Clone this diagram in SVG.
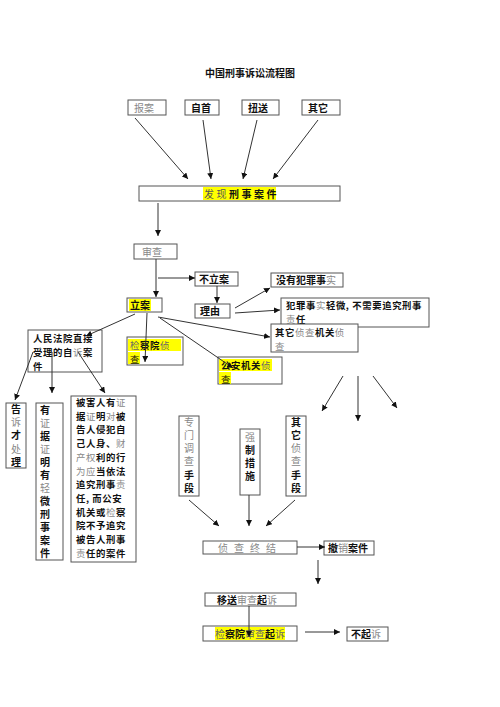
<svg xmlns="http://www.w3.org/2000/svg" width="500" height="707" viewBox="0 0 500 707">
<defs>
<marker id="a" markerWidth="6" markerHeight="6" refX="6" refY="3" orient="auto" markerUnits="userSpaceOnUse"><path d="M0,0 L6,3 L0,6 z" fill="#111"/></marker>
<style>
.bx{fill:#fff;stroke:#555;stroke-width:1}
.t{font-family:"Noto Sans CJK SC","Noto Sans",sans-serif;font-size:10px;fill:#111}
.s{font-size:9.4px;letter-spacing:0.6px}
.k{fill:#111;font-weight:bold}
.g{fill:#888;font-weight:normal}
.hl{fill:#ffff00}
.ln{stroke:#333;stroke-width:1;fill:none;marker-end:url(#a)}
.vt{writing-mode:vertical-rl;text-orientation:upright}
</style>
</defs>
<rect width="500" height="707" fill="#fff"/>
<text x="250" y="77" class="t k" text-anchor="middle" font-size="10.5">中国刑事诉讼流程图</text>

<g id="n-baoan"><rect class="bx" x="128" y="100" width="38" height="15"/><text class="t g" x="134" y="111.5">报案</text></g>
<g id="n-zishou"><rect class="bx" x="185" y="100" width="34" height="15"/><text class="t k" x="191" y="111.5">自首</text></g>
<g id="n-niusong"><rect class="bx" x="242" y="100" width="37" height="15"/><text class="t k" x="248" y="111.5">扭送</text></g>
<g id="n-qita"><rect class="bx" x="302" y="100" width="38" height="15"/><text class="t k" x="308" y="111.5">其它</text></g>

<g id="n-faxian"><rect class="bx" x="139" y="186" width="201" height="15"/><rect class="hl" x="203" y="187" width="73" height="13"/><text class="t" x="204" y="197.5" letter-spacing="2.5"><tspan fill="#555">发现</tspan><tspan class="k">刑事案件</tspan></text></g>

<g id="n-shencha"><rect class="bx" x="134" y="244" width="43" height="15"/><text class="t g" x="142" y="255.5">审查</text></g>
<g id="n-bulian"><rect class="bx" x="195" y="272" width="43" height="14"/><text class="t k" x="199" y="283">不立案</text></g>
<g id="n-liyou"><rect class="bx" x="195" y="304" width="35" height="14"/><text class="t k" x="200" y="315">理由</text></g>
<g id="n-lian"><rect class="bx" x="127" y="298" width="35" height="14"/><rect class="hl" x="129" y="299" width="22" height="12"/><text class="t k" x="130" y="309">立案</text></g>

<g id="n-meiyou"><rect class="bx" x="271" y="273" width="72" height="14"/><text class="t" x="276" y="284"><tspan class="k">没有犯罪事</tspan><tspan class="g">实</tspan></text></g>
<g id="n-qingwei"><rect class="bx" x="281" y="298" width="148" height="29"/><text class="t s" x="286" y="309"><tspan class="k">犯罪事</tspan><tspan class="g">实</tspan><tspan class="k">轻微, 不需要追究刑事</tspan></text><text class="t s" x="286" y="323"><tspan class="g">责</tspan><tspan class="k">任</tspan></text></g>
<g id="n-qitazhencha"><rect class="bx" x="271" y="324" width="87" height="28"/><text class="t s" x="275" y="336"><tspan class="k">其它</tspan><tspan class="g">侦查</tspan><tspan class="k">机关</tspan><tspan class="g">侦</tspan></text><text class="t s g" x="275" y="350">查</text></g>

<g id="n-jianchayuan"><rect class="bx" x="127" y="337" width="56" height="28"/><rect class="hl" x="128" y="339" width="53" height="12"/><rect class="hl" x="128" y="352" width="12" height="12"/><text class="t s" x="130" y="348.5"><tspan fill="#666">检</tspan><tspan class="k">察院</tspan><tspan fill="#666">侦</tspan></text><text class="t s" fill="#666" x="130" y="362.5">查</text></g>
<g id="n-gongan"><rect class="bx" x="218" y="357" width="64" height="27"/><rect class="hl" x="219" y="359" width="53" height="12"/><rect class="hl" x="219" y="372" width="12" height="12"/><text class="t s" x="221" y="368.5"><tspan class="k">公安机关</tspan><tspan fill="#666">侦</tspan></text><text class="t s" fill="#666" x="221" y="382.5">查</text></g>

<g id="n-fayuan"><rect class="bx" x="28" y="330" width="74" height="42"/><text class="t s k" x="33" y="342">人民法院直接</text><text class="t s" x="33" y="356"><tspan class="k">受理的自</tspan><tspan class="g">诉</tspan><tspan class="k">案</tspan></text><text class="t s k" x="33" y="370">件</text></g>

<g id="n-gaosu"><rect class="bx" x="6" y="403" width="20" height="65"/><text class="t vt" x="16" y="404" letter-spacing="3.2"><tspan class="k">告</tspan><tspan class="g">诉</tspan><tspan class="k">才</tspan><tspan class="g">处</tspan><tspan class="k">理</tspan></text></g>

<g id="n-youzhengju"><rect class="bx" x="36" y="403" width="27" height="157"/><text class="t vt" x="45" y="405" letter-spacing="3"><tspan class="k">有</tspan><tspan class="g">证</tspan><tspan class="k">据</tspan><tspan class="g">证</tspan><tspan class="k">明有</tspan><tspan class="g">轻</tspan><tspan class="k">微刑事案件</tspan></text></g>

<g id="n-beihairen"><rect class="bx" x="71" y="396" width="65" height="166"/>
<text class="t s" x="76" y="406"><tspan class="k">被害人有</tspan><tspan class="g">证</tspan></text>
<text class="t s" x="76" y="419.7"><tspan class="k">据</tspan><tspan class="g">证</tspan><tspan class="k">明</tspan><tspan class="g">对</tspan><tspan class="k">被</tspan></text>
<text class="t s k" x="76" y="433.4">告人侵犯自</text>
<text class="t s" x="76" y="447.1"><tspan class="k">己人身、</tspan><tspan class="g">财</tspan></text>
<text class="t s" x="76" y="460.8"><tspan class="g">产权</tspan><tspan class="k">利的行</tspan></text>
<text class="t s" x="76" y="474.5"><tspan class="g">为应</tspan><tspan class="k">当依法</tspan></text>
<text class="t s" x="76" y="488.2"><tspan class="k">追究刑事</tspan><tspan class="g">责</tspan></text>
<text class="t s k" x="76" y="501.9">任, 而公安</text>
<text class="t s" x="76" y="515.6"><tspan class="k">机关或</tspan><tspan class="g">检</tspan><tspan class="k">察</tspan></text>
<text class="t s k" x="76" y="529.3">院不予追究</text>
<text class="t s k" x="76" y="543">被告人刑事</text>
<text class="t s" x="76" y="556.7"><tspan class="g">责</tspan><tspan class="k">任的案件</tspan></text>
</g>

<g id="n-zhuanmen"><rect class="bx" x="179" y="416" width="20" height="80"/><text class="t vt" x="189" y="417" letter-spacing="3.2"><tspan class="g">专门调查</tspan><tspan class="k">手段</tspan></text></g>
<g id="n-qiangzhi"><rect class="bx" x="240" y="429" width="20" height="66"/><text class="t vt" x="250" y="432" letter-spacing="3"><tspan class="g">强</tspan><tspan class="k">制措施</tspan></text></g>
<g id="n-qitashouduan"><rect class="bx" x="286" y="416" width="20" height="80"/><text class="t vt" x="296" y="417" letter-spacing="3.2"><tspan class="k">其它</tspan><tspan class="g">侦查</tspan><tspan class="k">手段</tspan></text></g>

<g id="n-zhongjie"><rect class="bx" x="203" y="541" width="94" height="13"/><text class="t g" x="250" y="551.5" text-anchor="middle" letter-spacing="6">侦查终结</text></g>
<g id="n-chexiao"><rect class="bx" x="324" y="541" width="50" height="14"/><text class="t" x="328" y="552"><tspan class="k">撤</tspan><tspan class="g">销</tspan><tspan class="k">案件</tspan></text></g>
<g id="n-yisong"><rect class="bx" x="205" y="593" width="91" height="13"/><text class="t" x="217" y="603.5"><tspan class="k">移送</tspan><tspan class="g">审查</tspan><tspan class="k">起</tspan><tspan class="g">诉</tspan></text></g>
<g id="n-jcyshencha"><rect class="bx" x="203" y="626" width="94" height="15"/><rect class="hl" x="215" y="627" width="70" height="13"/><text class="t" x="215" y="637.5"><tspan fill="#666">检</tspan><tspan class="k">察院</tspan><tspan fill="#666">审查</tspan><tspan class="k">起</tspan><tspan fill="#666">诉</tspan></text></g>
<g id="n-buqisu"><rect class="bx" x="347" y="627" width="41" height="14"/><text class="t" x="351" y="638"><tspan class="k">不起</tspan><tspan class="g">诉</tspan></text></g>

<g id="connectors">
<line class="ln" x1="135" y1="118" x2="188" y2="179"/>
<line class="ln" x1="203" y1="120" x2="211" y2="179"/>
<line class="ln" x1="257" y1="120" x2="243" y2="179"/>
<line class="ln" x1="318" y1="120" x2="273" y2="179"/>
<line class="ln" x1="158" y1="203" x2="158" y2="236"/>
<line class="ln" x1="156" y1="259" x2="156" y2="297"/>
<line class="ln" x1="158" y1="278" x2="195" y2="278"/>
<line class="ln" x1="217" y1="286" x2="217" y2="303"/>
<line class="ln" x1="235" y1="308" x2="270" y2="288"/>
<line class="ln" x1="235" y1="313" x2="280" y2="310"/>
<line class="ln" x1="158" y1="317" x2="270" y2="337"/>
<line class="ln" x1="147" y1="313" x2="145" y2="362"/>
<line class="ln" x1="160" y1="318" x2="233" y2="368"/>
<line class="ln" x1="135" y1="314" x2="86" y2="336"/>
<line class="ln" x1="33" y1="352" x2="15" y2="400"/>
<line class="ln" x1="52" y1="352" x2="52" y2="393"/>
<line class="ln" x1="78" y1="352" x2="105" y2="393"/>
<line class="ln" x1="343" y1="376" x2="322" y2="411"/>
<line class="ln" x1="358" y1="376" x2="358" y2="421"/>
<line class="ln" x1="373" y1="376" x2="397" y2="408"/>
<line class="ln" x1="189" y1="500" x2="219" y2="526"/>
<line class="ln" x1="249" y1="495" x2="249" y2="526"/>
<line class="ln" x1="295" y1="500" x2="266" y2="526"/>
<line class="ln" x1="297" y1="547" x2="325" y2="547"/>
<line class="ln" x1="318" y1="560" x2="318" y2="584"/>
<line class="ln" x1="249" y1="606" x2="249" y2="637"/>
<line class="ln" x1="305" y1="632" x2="340" y2="632"/>
</g>
</svg>
